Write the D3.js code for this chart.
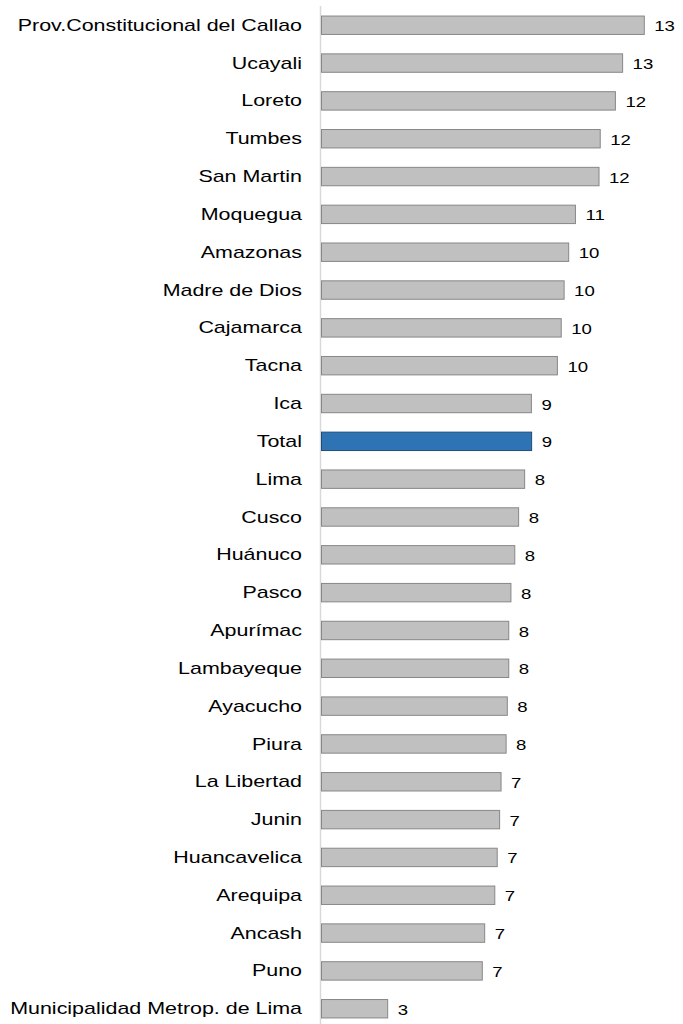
<!DOCTYPE html>
<html><head><meta charset="utf-8">
<script src="https://cdn.jsdelivr.net/npm/d3@7"></script>
<style>body{margin:0;background:#fff}</style>
</head><body><svg id="chart" width="683" height="1024"></svg>
<script>
const categories = ["Prov.Constitucional del Callao","Ucayali","Loreto","Tumbes","San Martin","Moquegua","Amazonas","Madre de Dios","Cajamarca","Tacna","Ica","Total","Lima","Cusco","Huánuco","Pasco","Apurímac","Lambayeque","Ayacucho","Piura","La Libertad","Junin","Huancavelica","Arequipa","Ancash","Puno","Municipalidad Metrop. de Lima"];
const values = [13.43,12.53,12.23,11.60,11.55,10.57,10.29,10.10,9.98,9.82,8.74,8.75,8.46,8.21,8.05,7.89,7.80,7.80,7.74,7.69,7.48,7.42,7.32,7.22,6.80,6.70,2.77];
const valueLabels = ["13","13","12","12","12","11","10","10","10","10","9","9","8","8","8","8","8","8","8","8","7","7","7","7","7","7","3"];
const highlight = "Total";

const svg = d3.select("#chart");
const x = d3.scaleLinear().domain([0,14]).range([321,658]);
const y = d3.scaleBand().domain(categories).range([6.08,1027.4]).paddingInner(0.5).paddingOuter(0.25);

const data = categories.map((c,i)=>({c, v:values[i], l:valueLabels[i]}));

svg.append("line").attr("x1",320.5).attr("x2",320.5).attr("y1",6).attr("y2",1024)
  .attr("stroke","#d9d9d9").attr("stroke-width",1.5);

svg.selectAll("rect.bar").data(data).enter().append("rect")
  .attr("class","bar")
  .attr("x",x(0)+0.5)
  .attr("y",d=>y(d.c)+0.5)
  .attr("width",d=>x(d.v)-x(0)-0.5)
  .attr("height",y.bandwidth()-0.5)
  .attr("fill",d=>d.c===highlight?"#2e74b5":"#c0c0c0")
  .attr("stroke",d=>d.c===highlight?"#1f4e79":"#878787")
  .attr("stroke-width",1);

const font = "Liberation Sans, Arial, Helvetica, sans-serif";

svg.selectAll("text.cat").data(data).enter().append("text")
  .attr("class","cat")
  .attr("transform",d=>`translate(302,${y(d.c)+y.bandwidth()/2+5.8}) scale(1.34,1)`)
  .attr("text-anchor","end")
  .attr("font-family",font).attr("font-size",16).attr("fill","#000")
  .text(d=>d.c);

svg.selectAll("text.val").data(data).enter().append("text")
  .attr("class","val")
  .attr("transform",d=>`translate(${x(d.v)+10},${y(d.c)+y.bandwidth()/2+6.3}) scale(1.24,1)`)
  .attr("font-family",font).attr("font-size",15).attr("fill","#000")
  .text(d=>d.l);
</script></body></html>
